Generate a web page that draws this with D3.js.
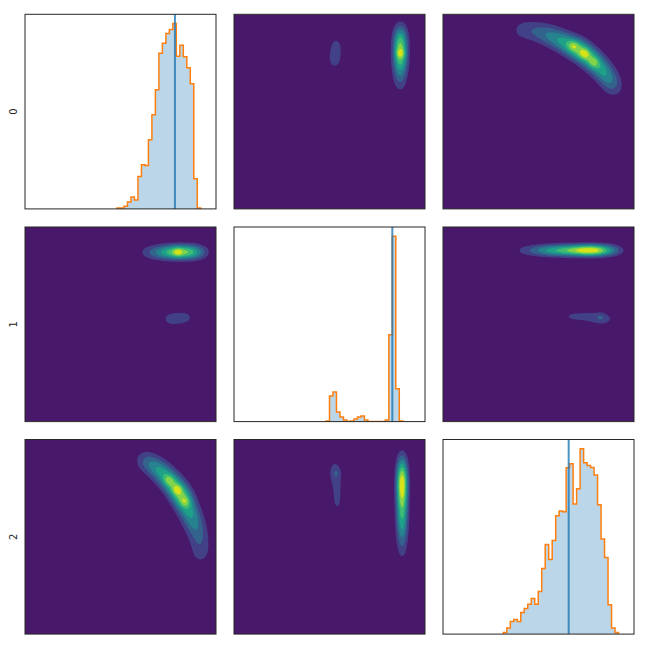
<!DOCTYPE html>
<html>
<head>
<meta charset="utf-8">
<script src="https://cdn.jsdelivr.net/npm/d3@7"></script>
<style>
  html, body { margin: 0; padding: 0; background: #fff; }
  svg { display: block; }
</style>
</head>
<body>
<svg id="chart" width="648" height="648"></svg>
<script>
// ---------------- DATA ----------------
const dimLabels = ["0", "1", "2"];
// histogram bins (units: fraction of each dimension's limits)
const binWidth = 0.01827;
const histStart = [0.4817, 0.4817, 0.3159];
const hist0 = [3,3,8,21,36,27,97,132,130,207,282,357,466,496,525,537,555,457,490,456,423,375,90,3];
const hist1 = [2,77,89,29,14,5,0,2,8,14,17,5,0,0,0,0,0,5,260,555,98,2];
const hist2 = [5,18,38,44,38,65,77,90,107,90,128,197,269,224,281,356,370,368,500,512,391,437,557,515,507,501,478,389,286,230,88,18,5];
// reference (true) values
const truth = [0.785, 0.829, 0.658];

// 2-D density ridges [x, y, relative density] and sharp peaks [x, y, extra height]
// pair A: x = dim1, y = dim0
const ridgeA = [
  [0.871,0.955,0.15],[0.871,0.93,0.35],[0.871,0.905,0.6],[0.871,0.88,0.8],
  [0.871,0.855,0.95],[0.871,0.83,1.0],[0.871,0.805,1.0],[0.871,0.78,0.95],
  [0.871,0.755,0.85],[0.871,0.73,0.7],[0.870,0.705,0.55],[0.870,0.68,0.42],
  [0.870,0.655,0.3],[0.870,0.63,0.2],[0.870,0.605,0.12],
  [0.536,0.865,0.2],[0.534,0.84,0.24],[0.532,0.815,0.25],[0.530,0.79,0.26],
  [0.528,0.765,0.26],[0.526,0.745,0.24]
];
const peaksA = [[0.871,0.80,0.25]];
// pair B: x = dim2, y = dim0
const ridgeB = [
  [0.38,0.917,0.14],[0.41,0.919,0.2],[0.44,0.92,0.27],[0.48,0.913,0.36],
  [0.52,0.903,0.47],[0.56,0.89,0.6],[0.60,0.873,0.74],[0.64,0.855,0.87],
  [0.68,0.835,0.97],[0.71,0.82,1.0],[0.74,0.80,1.0],[0.77,0.775,1.0],
  [0.80,0.748,0.93],[0.83,0.718,0.78],[0.855,0.69,0.62],[0.875,0.66,0.48],
  [0.89,0.63,0.33],[0.90,0.61,0.18]
];
const peaksB = [[0.681,0.838,0.2],[0.742,0.797,0.25],[0.79,0.752,0.22]];
// pair C: x = dim2, y = dim1
const ridgeC = [
  [0.40,0.88,0.13],[0.44,0.88,0.2],[0.48,0.88,0.3],[0.52,0.88,0.42],
  [0.56,0.88,0.55],[0.60,0.88,0.62],[0.64,0.88,0.68],[0.68,0.88,0.78],
  [0.72,0.88,0.9],[0.76,0.88,1.0],[0.80,0.88,0.98],[0.84,0.88,0.72],
  [0.88,0.88,0.45],[0.92,0.88,0.2],
  [0.65,0.54,0.15],[0.69,0.54,0.16],[0.73,0.54,0.16],[0.77,0.538,0.17],
  [0.81,0.537,0.22],[0.85,0.532,0.22],[0.83,0.51,0.14]
];
const peaksC = [[0.829,0.542,0.06]];

// ---------------- LAYOUT ----------------
const colLeft = [25, 234, 443], panelW = 191;
const rowTop = [14.3, 227, 439.5], panelH = 194.6;
const N = 120;
const nBands = 8;

const svg = d3.select("#chart");
const hists = [hist0, hist1, hist2];

function splat(points) {
  const grid = new Float64Array(N * N);
  for (const [x, y, w] of points) {
    const fx = x * N - 0.5, fy = (1 - y) * N - 0.5;
    const i0 = Math.floor(fx), j0 = Math.floor(fy);
    const tx = fx - i0, ty = fy - j0;
    const add = (i, j, v) => { if (i >= 0 && i < N && j >= 0 && j < N) grid[j * N + i] += v; };
    add(i0, j0, w * (1 - tx) * (1 - ty));
    add(i0 + 1, j0, w * tx * (1 - ty));
    add(i0, j0 + 1, w * (1 - tx) * ty);
    add(i0 + 1, j0 + 1, w * tx * ty);
  }
  return grid;
}

function buildDensity(ridge, peaks, rx, ry, rp) {
  const g1 = splat(ridge);
  d3.blur2({data: g1, width: N, height: N}, rx, ry);
  const m1 = d3.max(g1);
  // kernel height of a unit peak
  const imp = new Float64Array(N * N); imp[(N / 2) * N + N / 2] = 1;
  d3.blur2({data: imp, width: N, height: N}, rp);
  const k = d3.max(imp);
  const g2 = splat(peaks);
  d3.blur2({data: g2, width: N, height: N}, rp);
  const grid = new Float64Array(N * N);
  for (let i = 0; i < grid.length; i++) grid[i] = g1[i] / m1 + g2[i] / k;
  const mx = d3.max(grid);
  const thr = d3.range(1, nBands).map(t => t / nBands * mx);
  return d3.contours().size([N, N]).thresholds(thr)(grid);
}

const densA = buildDensity(ridgeA, peaksA, 2.4, 3, 1.2);
const densB = buildDensity(ridgeB, peaksB, 3.8, 3.8, 1.3);
const densC = buildDensity(ridgeC, peaksC, 4, 1.8, 1.2);
// key: "xdim-ydim" in the orientation the ridges were defined
const dens = { "1-0": densA, "2-0": densB, "2-1": densC };

const defs = svg.append("defs");

for (let r = 0; r < 3; r++) {
  for (let c = 0; c < 3; c++) {
    const x0 = colLeft[c], y0 = rowTop[r];
    const xs = d3.scaleLinear([0, 1], [x0, x0 + panelW]);
    const g = svg.append("g");
    const clipId = `clip-${r}-${c}`;
    defs.append("clipPath").attr("id", clipId)
      .append("rect").attr("x", x0).attr("y", y0).attr("width", panelW).attr("height", panelH);

    if (r === c) {
      const counts = hists[r];
      const ymax = d3.max(counts) * 1.05;
      const ys = d3.scaleLinear([0, ymax], [y0 + panelH, y0]);
      const edges = counts.map((_, k) => histStart[r] + k * binWidth);
      const pts = counts.map((v, k) => [edges[k], v]);
      pts.push([histStart[r] + counts.length * binWidth, counts[counts.length - 1]]);
      const gc = g.append("g").attr("clip-path", `url(#${clipId})`);
      gc.append("path")
        .attr("d", d3.area().x(d => xs(d[0])).y0(ys(0)).y1(d => ys(d[1])).curve(d3.curveStepAfter)(pts))
        .attr("fill", "#1f77b4").attr("fill-opacity", 0.3);
      const outline = [[pts[0][0], 0], ...pts, [pts[pts.length - 1][0], 0]];
      gc.append("path")
        .attr("d", d3.line().x(d => xs(d[0])).y(d => ys(d[1])).curve(d3.curveStepAfter)(outline))
        .attr("fill", "none").attr("stroke", "#ff7f0e").attr("stroke-width", 1.5);
      gc.append("line")
        .attr("x1", xs(truth[r])).attr("x2", xs(truth[r]))
        .attr("y1", y0).attr("y2", y0 + panelH)
        .attr("stroke", "#1f77b4").attr("stroke-opacity", 0.8).attr("stroke-width", 2);
    } else {
      const ysd = d3.scaleLinear([0, 1], [y0 + panelH, y0]);
      // panel shows x = dim c, y = dim r
      let key, transposed;
      if (dens[`${c}-${r}`]) { key = `${c}-${r}`; transposed = false; }
      else { key = `${r}-${c}`; transposed = true; }
      const contours = dens[key];
      const proj = d3.geoTransform({
        point(gx, gy) {
          const dx = gx / N, dy = 1 - gy / N;
          if (!transposed) this.stream.point(xs(dx), ysd(dy));
          else this.stream.point(xs(dy), ysd(dx));
        }
      });
      const path = d3.geoPath(proj);
      const gc = g.append("g").attr("clip-path", `url(#${clipId})`);
      gc.append("rect").attr("x", x0).attr("y", y0).attr("width", panelW).attr("height", panelH)
        .attr("fill", d3.interpolateViridis(0.5 / nBands));
      gc.selectAll("path.band").data(contours).join("path")
        .attr("class", "band")
        .attr("d", path)
        .attr("fill", (d, k) => d3.interpolateViridis((k + 1.5) / nBands));
    }
    g.append("rect").attr("x", x0).attr("y", y0).attr("width", panelW).attr("height", panelH)
      .attr("fill", "none").attr("stroke", "#262626").attr("stroke-width", 1);
  }
  svg.append("text")
    .attr("transform", `translate(${17},${rowTop[r] + panelH / 2}) rotate(-90)`)
    .attr("text-anchor", "middle")
    .attr("font-family", "DejaVu Sans, sans-serif")
    .attr("font-size", 10)
    .attr("fill", "#262626")
    .text(dimLabels[r]);
}
</script>
</body>
</html>
